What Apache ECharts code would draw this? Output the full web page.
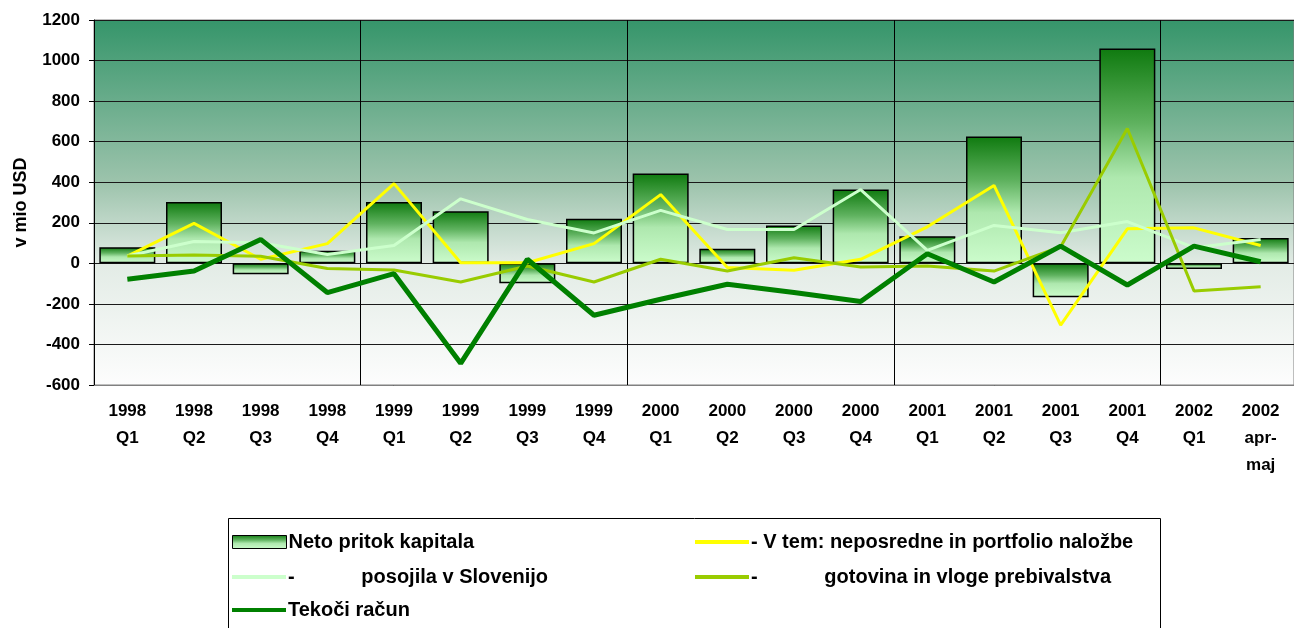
<!DOCTYPE html>
<html><head><meta charset="utf-8">
<script src="https://cdn.jsdelivr.net/npm/echarts@6/dist/echarts.min.js"></script>
<style>html,body{margin:0;padding:0;background:#fff}#c{width:1294px;height:628px}</style>
</head><body><div id="c"></div>
<script>
const categories = ['1998\nQ1','1998\nQ2','1998\nQ3','1998\nQ4','1999\nQ1','1999\nQ2','1999\nQ3','1999\nQ4','2000\nQ1','2000\nQ2','2000\nQ3','2000\nQ4','2001\nQ1','2001\nQ2','2001\nQ3','2001\nQ4','2002\nQ1','2002\napr-\nmaj'];
const netoPritok = [79, 302, -54, 62, 302, 257, -98, 220, 443, 72, 187, 364, 134, 626, -167, 1060, -28, 125];
const neposredne = [36, 197, 20, 97, 393, 3, 3, 97, 339, -21, -34, 20, 180, 384, -305, 170, 175, 88];
const posojila = [36, 108, 102, 44, 88, 318, 216, 150, 261, 167, 167, 364, 64, 187, 151, 206, 77, 118];
const gotovina = [36, 41, 35, -25, -33, -92, -13, -92, 20, -38, 28, -18, -13, -38, 82, 665, -136, -115];
const tekociRacun = [-79, -38, 118, -144, -51, -493, 20, -256, -177, -103, -144, -188, 47, -92, 85, -107, 85, 8];
const yTicks = {min: -600, max: 1200, interval: 200};

const names = ['Neto pritok kapitala', '- V tem: neposredne in portfolio naložbe',
  '-            posojila v Slovenijo', '-            gotovina in vloge prebivalstva', 'Tekoči račun'];
const colors = ['#0f7a0f', '#ffff00', '#ccffcc', '#99cc00', '#008000'];
const FONT = 'Liberation Sans, Arial, sans-serif';

const chart = echarts.init(document.getElementById('c'));
const barGrad = () => new echarts.graphic.LinearGradient(0,0,0,1,[
  {offset:0,color:'#0f7a0f'},{offset:0.35,color:'#5fb25f'},{offset:0.6,color:'#aee8ae'},{offset:1,color:'#ccfccc'}]);

const legendText = {fontFamily: FONT, fontWeight: 'bold', fontSize: 20, color: '#000', padding: [0,0,0,-3]};
function mkLegend(i, left, top, isBar) {
  return {left: left, top: top, padding: 0, itemWidth: 54, itemHeight: isBar ? 13 : 4, icon: 'rect',
    data: [names[i]], textStyle: legendText,
    itemStyle: isBar ? {borderColor: '#000', borderWidth: 1} : {borderWidth: 0}};
}

chart.setOption({
  animation: false,
  grid: {left: 94, right: 0, top: 20, bottom: 243, show: true, borderColor: '#808080', borderWidth: 1,
    backgroundColor: new echarts.graphic.LinearGradient(0,0,0,1,[
      {offset:0,color:'#35956a'},{offset:0.45,color:'#9ec4ad'},{offset:0.67,color:'#e3ece6'},{offset:1,color:'#fdfdfd'}])},
  xAxis: {type: 'category', data: categories, boundaryGap: true,
    axisLine: {show: true, onZero: false, lineStyle: {color: '#808080'}},
    axisTick: {show: false},
    axisLabel: {interval: 0, fontFamily: FONT, fontWeight: 'bold', fontSize: 17, color: '#000', lineHeight: 27, margin: 13},
    splitLine: {show: true, interval: function(i){ return i % 4 === 0 && i > 0; }, lineStyle: {color: '#000', width: 1}}},
  yAxis: {type: 'value', min: yTicks.min, max: yTicks.max, interval: yTicks.interval,
    name: 'v mio USD', nameLocation: 'middle', nameGap: 64, nameRotate: 90,
    nameTextStyle: {fontFamily: FONT, fontWeight: 'bold', fontSize: 18, color: '#000'},
    axisLine: {show: true, lineStyle: {color: '#000'}},
    axisTick: {show: true, length: 5, lineStyle: {color: '#000'}},
    axisLabel: {fontFamily: FONT, fontWeight: 'bold', fontSize: 17, color: '#000', margin: 14,
      formatter: function(v){ return String(v); }},
    splitLine: {show: true, lineStyle: {color: '#1a1a1a', width: 1}}},
  legend: [
    mkLegend(0, 232, 532, true),
    mkLegend(2, 232, 567, false),
    mkLegend(4, 232, 600, false),
    mkLegend(1, 695, 532, false),
    mkLegend(3, 695, 567, false)
  ],
  graphic: [{type: 'rect', shape: {x: 228.5, y: 518.5, width: 932, height: 120}, style: {fill: 'none', stroke: '#000', lineWidth: 1}, z: -1}],
  series: [
    {name: names[0], type: 'bar', data: netoPritok, barCategoryGap: '16%',
     itemStyle: {color: barGrad(), borderColor: '#000', borderWidth: 1.5}},
    {name: names[1], type: 'line', data: neposredne, symbol: 'none', lineStyle: {color: colors[1], width: 3}, itemStyle: {color: colors[1]}},
    {name: names[2], type: 'line', data: posojila, symbol: 'none', lineStyle: {color: colors[2], width: 3}, itemStyle: {color: colors[2]}},
    {name: names[3], type: 'line', data: gotovina, symbol: 'none', lineStyle: {color: colors[3], width: 3}, itemStyle: {color: colors[3]}},
    {name: names[4], type: 'line', data: tekociRacun, symbol: 'none', lineStyle: {color: colors[4], width: 5}, itemStyle: {color: colors[4]}}
  ]
});
</script></body></html>
